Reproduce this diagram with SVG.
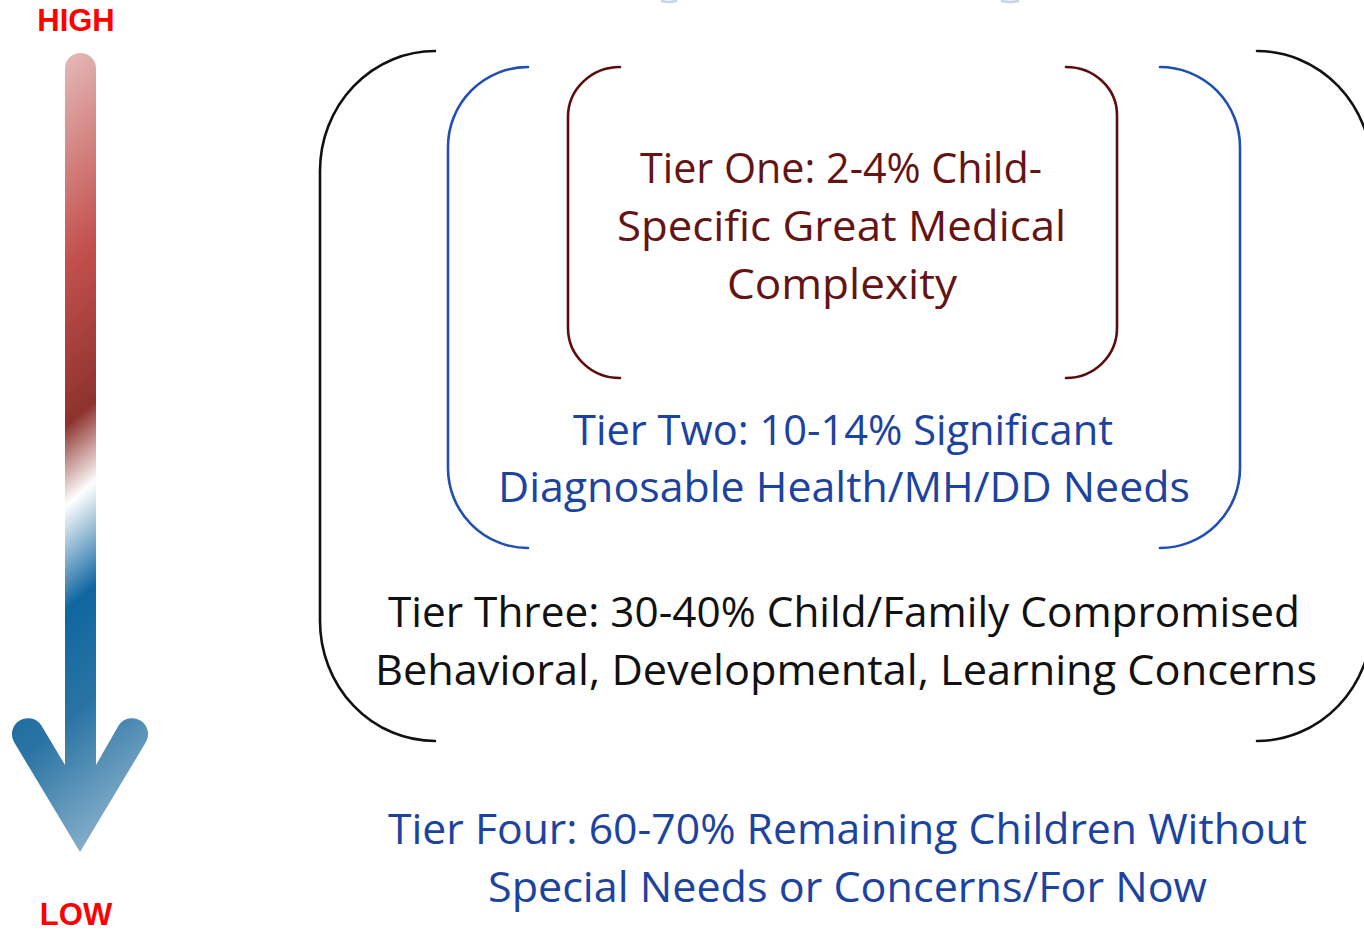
<svg xmlns="http://www.w3.org/2000/svg" width="1364" height="930" viewBox="0 0 1364 930">
<style>
.t{font-family:"Open Sans","Liberation Sans",sans-serif;font-size:42px}
.lbl{font-family:"Liberation Sans",Arial,sans-serif;font-size:31px;font-weight:bold;fill:#ff0000}
.br{fill:none;stroke-width:2.6;stroke-linecap:round}
</style>
<defs>
<linearGradient id="ag" gradientUnits="userSpaceOnUse" x1="80" y1="53" x2="474" y2="527">
<stop offset="0" stop-color="#e2b4b1"/>
<stop offset="0.25" stop-color="#c3504d"/>
<stop offset="0.45" stop-color="#8e322e"/>
<stop offset="0.55" stop-color="#ffffff"/>
<stop offset="0.68" stop-color="#0f66a0"/>
<stop offset="0.82" stop-color="#2a74a4"/>
<stop offset="1" stop-color="#86afca"/>
</linearGradient>
</defs>
<rect width="1364" height="930" fill="#ffffff"/>

<g id="scale">
<text class="lbl" x="76" y="31" text-anchor="middle">HIGH</text>
<path d="M65,765 L65,68.5 A15.5,15.5 0 0 1 96,68.5 L96,765 L118.6,725.5 A16,16 0 0 1 146,742 L80,852 L14,742 A16,16 0 0 1 41.4,725.5 Z" fill="url(#ag)"/>
<text class="lbl" x="76" y="925" text-anchor="middle">LOW</text>
</g>

<g id="connectors">
<path class="br" stroke="#c9d3e8" d="M662,1 Q668,3 676,1 M1002,1 Q1010,3 1018,1"/>
</g>

<g id="tier-three-bracket">
<path class="br" stroke="#111111" d="M435,51 A115,120 0 0 0 320,171 L320,621 A115,120 0 0 0 435,741"/>
<path class="br" stroke="#111111" d="M1257,51 A115,120 0 0 1 1372,171 L1372,621 A115,120 0 0 1 1257,741"/>
</g>
<g id="tier-two-bracket">
<path class="br" stroke="#1f4fb0" d="M528,67 A80,80 0 0 0 448,147 L448,468 A80,80 0 0 0 528,548"/>
<path class="br" stroke="#1f4fb0" d="M1160,67 A80,80 0 0 1 1240,147 L1240,468 A80,80 0 0 1 1160,548"/>
</g>
<g id="tier-one-bracket">
<path class="br" stroke="#5c0c0c" d="M620,67 A52,50 0 0 0 568,117 L568,328 A52,50 0 0 0 620,378"/>
<path class="br" stroke="#5c0c0c" d="M1066,67 A51,48 0 0 1 1117,115 L1117,328 A51,50 0 0 1 1066,378"/>
</g>

<g id="tier-one" fill="#641414" class="t">
<text x="640" y="183" textLength="402" lengthAdjust="spacingAndGlyphs">Tier One: 2-4% Child-</text>
<text x="617" y="241" textLength="449" lengthAdjust="spacingAndGlyphs">Specific Great Medical</text>
<text x="727" y="299" textLength="230" lengthAdjust="spacingAndGlyphs">Complexity</text>
</g>
<g id="tier-two" fill="#1c43a0" class="t">
<text x="573" y="445" textLength="540" lengthAdjust="spacingAndGlyphs">Tier Two: 10-14% Significant</text>
<text x="498" y="502" textLength="692" lengthAdjust="spacingAndGlyphs">Diagnosable Health/MH/DD Needs</text>
</g>
<g id="tier-three" fill="#111111" class="t">
<text x="388" y="627" textLength="912" lengthAdjust="spacingAndGlyphs">Tier Three: 30-40% Child/Family Compromised</text>
<text x="375" y="685" textLength="942" lengthAdjust="spacingAndGlyphs">Behavioral, Developmental, Learning Concerns</text>
</g>
<g id="tier-four" fill="#1c43a0" class="t">
<text x="388" y="844" textLength="919" lengthAdjust="spacingAndGlyphs">Tier Four: 60-70% Remaining Children Without</text>
<text x="488" y="902" textLength="719" lengthAdjust="spacingAndGlyphs">Special Needs or Concerns/For Now</text>
</g>
</svg>
